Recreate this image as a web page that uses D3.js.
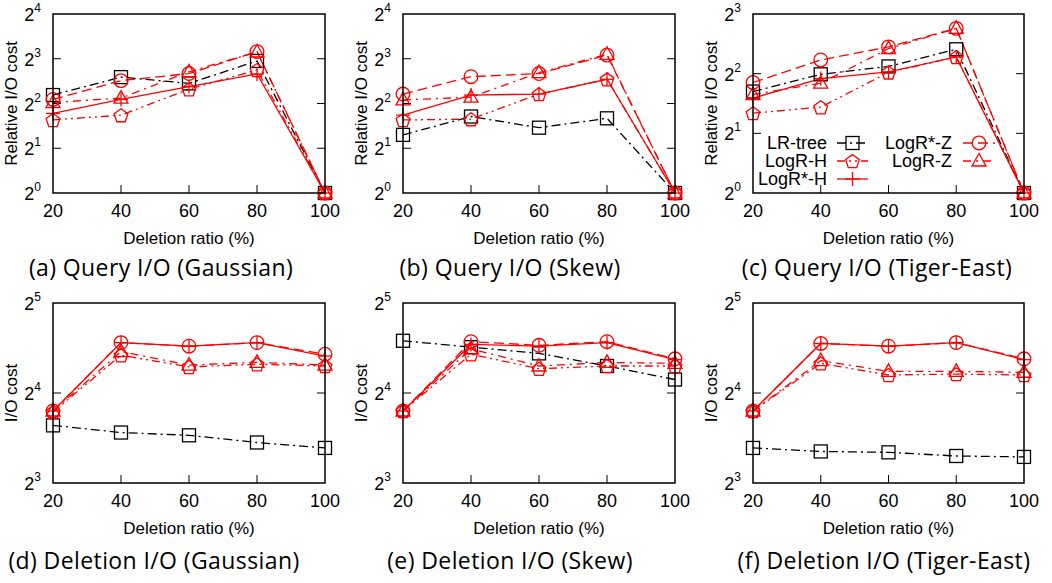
<!DOCTYPE html>
<html><head><meta charset="utf-8">
<script src="https://cdn.jsdelivr.net/npm/d3@7/dist/d3.min.js"></script>
<style>
body{margin:0;background:#fff;}
svg{display:block;}
text{font-family:"Liberation Sans",Arial,sans-serif;fill:#000;}
.cap{font-family:"Open Sans","Lato",sans-serif;}
</style></head>
<body><svg id="c" width="1052" height="583"></svg>
<script>
const ratios = [20, 40, 60, 80, 100];
const seriesNames = ["LR-tree", "LogR-H", "LogR*-H", "LogR*-Z", "LogR-Z"];

// (a) Query I/O (Gaussian) - relative I/O cost
const qGaussLR   = [4.56, 6.02, 5.46, 7.73, 1];
const qGaussLH   = [3.10, 3.34, 4.99, 6.73, 1];
const qGaussLSH  = [3.43, 4.26, 5.20, 6.32, 1];
const qGaussLSZ  = [4.26, 5.70, 6.36, 8.94, 1];
const qGaussLZ   = [4.06, 4.35, 6.54, 8.88, 1];
// (b) Query I/O (Skew)
const qSkewLR    = [2.46, 3.27, 2.75, 3.18, 1];
const qSkewLH    = [3.10, 3.14, 4.63, 5.82, 1];
const qSkewLSH   = [3.34, 4.56, 4.63, 5.82, 1];
const qSkewLSZ   = [4.63, 6.06, 6.36, 8.46, 1];
const qSkewLZ    = [4.23, 4.41, 6.45, 8.57, 1];
// (c) Query I/O (Tiger-East)
const qTigerLR   = [3.25, 3.97, 4.35, 5.31, 1];
const qTigerLH   = [2.53, 2.71, 4.06, 4.86, 1];
const qTigerLSH  = [3.01, 3.78, 4.08, 4.86, 1];
const qTigerLSZ  = [3.61, 4.69, 5.46, 6.77, 1];
const qTigerLZ   = [3.14, 3.58, 5.35, 6.77, 1];
// (d) Deletion I/O (Gaussian)
const dGaussLR   = [12.47, 11.80, 11.55, 10.93, 10.48];
const dGaussLH   = [13.83, 21.41, 19.56, 19.97, 19.70];
const dGaussLSH  = [13.93, 23.59, 22.94, 23.59, 21.26];
const dGaussLSZ  = [13.93, 23.59, 22.94, 23.59, 21.56];
const dGaussLZ   = [13.93, 22.01, 19.84, 20.25, 19.84];
// (e) Deletion I/O (Skew)
const dSkewLR    = [23.92, 22.78, 21.71, 19.70, 17.75];
const dSkewLH    = [13.93, 21.56, 19.29, 19.70, 19.70];
const dSkewLSH   = [13.93, 23.26, 22.94, 23.59, 20.68];
const dSkewLSZ   = [13.93, 23.75, 23.10, 23.75, 20.82];
const dSkewLZ    = [13.93, 22.47, 19.70, 20.25, 20.11];
// (f) Deletion I/O (Tiger-East)
const dTigerLR   = [10.48, 10.20, 10.13, 9.85, 9.78];
const dTigerLH   = [13.93, 20.11, 18.38, 18.51, 18.38];
const dTigerLSH  = [13.93, 23.43, 22.94, 23.59, 20.68];
const dTigerLSZ  = [13.93, 23.43, 22.94, 23.59, 20.82];
const dTigerLZ   = [13.93, 20.53, 18.90, 18.90, 18.77];

const captions = ["(a) Query I/O (Gaussian)", "(b) Query I/O (Skew)", "(c) Query I/O (Tiger-East)",
                  "(d) Deletion I/O (Gaussian)", "(e) Deletion I/O (Skew)", "(f) Deletion I/O (Tiger-East)"];
const yTitles = ["Relative I/O cost", "I/O cost"];
const xTitle = "Deletion ratio (%)";
const yExpA = [0, 1, 2, 3, 4];
const yExpC = [0, 1, 2, 3];
const yExpD = [3, 4, 5];

const styles = [
  {color:"#000", dash:"9,4,2,4", marker:"square"},
  {color:"#ff0000", dash:"8,4,2,4,2,4", marker:"pentagon"},
  {color:"#ff0000", dash:null, marker:"plus"},
  {color:"#ff0000", dash:"10,5", marker:"circle"},
  {color:"#ff0000", dash:"8,5,2,5", marker:"triangle"}
];

const panels = [
  {x0:53, x1:325, y0:14, y1:193, exps:yExpA, data:[qGaussLR,qGaussLH,qGaussLSH,qGaussLSZ,qGaussLZ], cap:captions[0], capX:161, capY:276, yt:yTitles[0]},
  {x0:403, x1:675, y0:14, y1:193, exps:yExpA, data:[qSkewLR,qSkewLH,qSkewLSH,qSkewLSZ,qSkewLZ], cap:captions[1], capX:510, capY:276, yt:yTitles[0]},
  {x0:753, x1:1024, y0:14, y1:193, exps:yExpC, data:[qTigerLR,qTigerLH,qTigerLSH,qTigerLSZ,qTigerLZ], cap:captions[2], capX:877, capY:276, yt:yTitles[0], legend:true},
  {x0:53, x1:325, y0:303, y1:483, exps:yExpD, data:[dGaussLR,dGaussLH,dGaussLSH,dGaussLSZ,dGaussLZ], cap:captions[3], capX:154, capY:569, yt:yTitles[1]},
  {x0:403, x1:675, y0:303, y1:483, exps:yExpD, data:[dSkewLR,dSkewLH,dSkewLSH,dSkewLSZ,dSkewLZ], cap:captions[4], capX:510, capY:569, yt:yTitles[1]},
  {x0:753, x1:1024, y0:303, y1:483, exps:yExpD, data:[dTigerLR,dTigerLH,dTigerLSH,dTigerLSZ,dTigerLZ], cap:captions[5], capX:884, capY:569, yt:yTitles[1]}
];

const svg = d3.select("#c");

function drawMarker(g, type, x, y, color) {
  const s = g.append("g").attr("transform", `translate(${x},${y})`)
    .attr("fill","none").attr("stroke",color).attr("stroke-width",1.3);
  if (type==="square") s.append("rect").attr("x",-6.5).attr("y",-6.5).attr("width",13).attr("height",13);
  else if (type==="circle") s.append("circle").attr("r",6.8);
  else if (type==="plus") { s.append("line").attr("x1",-7).attr("x2",7); s.append("line").attr("y1",-7).attr("y2",7); }
  else if (type==="triangle") s.append("path").attr("d","M0,-7.5L7,5L-7,5Z");
  else if (type==="pentagon") {
    const pts = d3.range(5).map(i => { const a = -Math.PI/2 + i*2*Math.PI/5; return [7.2*Math.cos(a), 7.2*Math.sin(a)+0.8]; });
    s.append("path").attr("d","M"+pts.map(p=>p.join(",")).join("L")+"Z");
  }
}

panels.forEach(p => {
  const g = svg.append("g");
  const x = d3.scaleLinear().domain([20,100]).range([p.x0,p.x1]);
  const y = d3.scaleLog().base(2).domain([Math.pow(2,p.exps[0]), Math.pow(2,p.exps[p.exps.length-1])]).range([p.y1,p.y0]);
  const tl = 8;
  p.exps.forEach(e => {
    const yy = y(Math.pow(2,e));
    if (e !== p.exps[0] && e !== p.exps[p.exps.length-1]) {
      g.append("line").attr("x1",p.x0).attr("x2",p.x0+tl).attr("y1",yy).attr("y2",yy).attr("stroke","#000");
      g.append("line").attr("x1",p.x1).attr("x2",p.x1-tl).attr("y1",yy).attr("y2",yy).attr("stroke","#000");
    }
    const t = g.append("text").attr("x",p.x0-12).attr("y",yy+7).attr("text-anchor","end").attr("font-size",18);
    t.append("tspan").text("2");
    t.append("tspan").attr("dy",-9).attr("font-size",12).text(String(e));
  });
  ratios.forEach(r => {
    const xx = x(r);
    if (r !== 20 && r !== 100) {
      g.append("line").attr("x1",xx).attr("x2",xx).attr("y1",p.y1).attr("y2",p.y1-tl).attr("stroke","#000");
    }
    g.append("text").attr("x",xx).attr("y",p.y1+24).attr("text-anchor","middle").attr("font-size",18).text(r);
  });
  g.append("text").attr("x",(p.x0+p.x1)/2).attr("y",p.y1+51).attr("text-anchor","middle").attr("font-size",17).text(xTitle);
  g.append("text").attr("transform",`translate(${p.x0-36},${(p.y0+p.y1)/2}) rotate(-90)`)
    .attr("text-anchor","middle").attr("font-size",17).text(p.yt);
  g.append("text").attr("class","cap").attr("x",p.capX).attr("y",p.capY).attr("text-anchor","middle")
    .attr("font-size",23).attr("letter-spacing",0.4).text(p.cap);

  const line = d3.line().x((d,i)=>x(ratios[i])).y(d=>y(d));
  p.data.forEach((vals, si) => {
    const st = styles[si];
    g.append("path").attr("d", line(vals)).attr("fill","none").attr("stroke",st.color)
      .attr("stroke-width",1.3).attr("stroke-dasharray", st.dash);
  });
  p.data.forEach((vals, si) => {
    const st = styles[si];
    vals.forEach((v,i) => drawMarker(g, st.marker, x(ratios[i]), y(v), st.color));
  });

  if (p.legend) {
    const entries = [
      {si:0, tx:827, lx0:837, lx1:868, y:143},
      {si:1, tx:827, lx0:837, lx1:868, y:161},
      {si:2, tx:827, lx0:837, lx1:868, y:179},
      {si:3, tx:952, lx0:963, lx1:995, y:143},
      {si:4, tx:952, lx0:963, lx1:995, y:161}
    ];
    entries.forEach(en => {
      const st = styles[en.si];
      g.append("text").attr("x",en.tx).attr("y",en.y+6).attr("text-anchor","end").attr("font-size",18).text(seriesNames[en.si]);
      g.append("line").attr("x1",en.lx0).attr("x2",en.lx1).attr("y1",en.y).attr("y2",en.y)
        .attr("stroke",st.color).attr("stroke-width",1.3).attr("stroke-dasharray",st.dash);
      drawMarker(g, st.marker, (en.lx0+en.lx1)/2, en.y, st.color);
    });
  }

  g.append("rect").attr("x",p.x0).attr("y",p.y0).attr("width",p.x1-p.x0).attr("height",p.y1-p.y0)
    .attr("fill","none").attr("stroke","#000").attr("stroke-width",1.5);
});
</script></body></html>
